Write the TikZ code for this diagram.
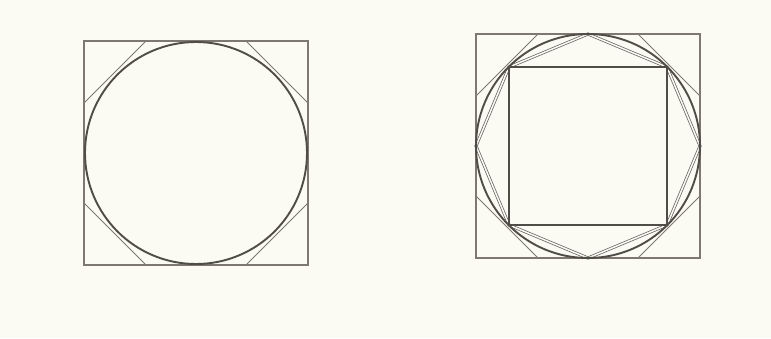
\documentclass[tikz,border=0pt]{standalone}
\usepackage{tikz}

\definecolor{paper}{RGB}{251,251,243}
\definecolor{ink}{RGB}{80,76,70}
\definecolor{pencil}{RGB}{125,120,112}

\begin{document}
\begin{tikzpicture}[x=1pt,y=-1pt,
  frame/.style={draw=pencil,line width=1.2pt},
  rim/.style={draw=ink,line width=1.9pt},
  cut/.style={draw=pencil,line width=0.9pt},
  chord/.style={draw=ink!85,line width=0.75pt,double=paper,double distance=1.5pt},
  inner/.style={draw=ink,line width=1.9pt}
]
  % Background
  \fill[paper] (0,0) rectangle (771,338);
  \useasboundingbox (0,0) rectangle (771,338);

  % Left figure: square, circle, corner cuts
  \begin{scope}[shift={(196,153)}]
    \coordinate (leftc) at (0,0);
    \draw[frame] (-112,-112) rectangle (112,112);
    \foreach \sx in {-1,1}{
      \foreach \sy in {-1,1}{
        \draw[cut] ({\sx*50},{\sy*112}) -- ({\sx*112},{\sy*50});
      }
    }
    \draw[rim] (leftc) circle[radius=111pt];
  \end{scope}

  % Right figure: same, plus octagon and inner square
  \begin{scope}[shift={(588,146)}]
    \coordinate (rightc) at (0,0);
    \draw[frame] (-112,-112) rectangle (112,112);
    \foreach \sx in {-1,1}{
      \foreach \sy in {-1,1}{
        \draw[cut] ({\sx*50},{\sy*112}) -- ({\sx*112},{\sy*50});
      }
    }
    % inscribed octagon
    \draw[chord] (0,-112) -- (79,-79) -- (112,0) -- (79,79) -- (0,112)
      -- (-79,79) -- (-112,0) -- (-79,-79) -- cycle;
    \draw[rim] (rightc) circle[radius=112pt];
    \draw[inner] (-79,-79) rectangle (79,79);
  \end{scope}
\end{tikzpicture}
\end{document}
